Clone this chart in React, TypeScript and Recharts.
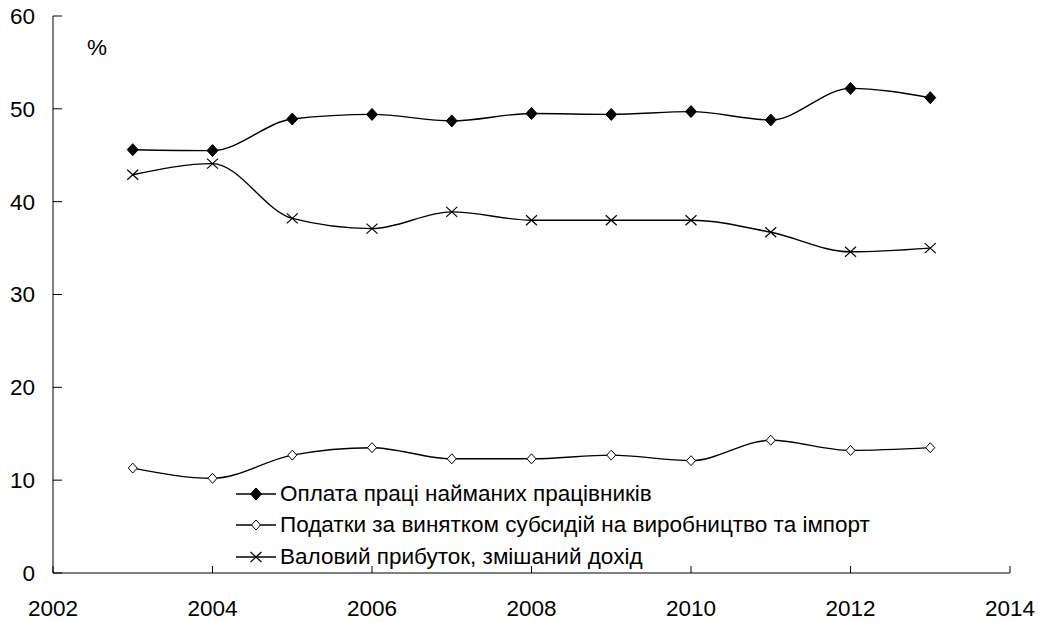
import { LineChart, Line, XAxis, YAxis, Legend } from 'recharts';

const years = [2003, 2004, 2005, 2006, 2007, 2008, 2009, 2010, 2011, 2012, 2013];
const compensation = [45.6, 45.5, 48.9, 49.4, 48.7, 49.5, 49.4, 49.7, 48.8, 52.2, 51.2];
const taxes = [11.3, 10.2, 12.7, 13.5, 12.3, 12.3, 12.7, 12.1, 14.3, 13.2, 13.5];
const grossProfit = [42.9, 44.1, 38.2, 37.1, 38.9, 38.0, 38.0, 38.0, 36.7, 34.6, 35.0];

const xTicks = [2002, 2004, 2006, 2008, 2010, 2012, 2014];
const yTicks = [0, 10, 20, 30, 40, 50, 60];

const seriesNames = [
  'Оплата праці найманих працівників',
  'Податки за винятком субсидій на виробництво та імпорт',
  'Валовий прибуток, змішаний дохід',
];

const data = years.map((year, i) => ({
  year,
  comp: compensation[i],
  tax: taxes[i],
  profit: grossProfit[i],
}));

const FONT = '"Liberation Sans", Arial, sans-serif';

function marker(kind: string, cx: number, cy: number, key?: string | number) {
  if (kind === 'filled') {
    return (
      <polygon
        key={key}
        points={`${cx},${cy - 6} ${cx + 5.5},${cy} ${cx},${cy + 6} ${cx - 5.5},${cy}`}
        fill="#000"
        stroke="#000"
        strokeWidth={1}
      />
    );
  }
  if (kind === 'hollow') {
    return (
      <polygon
        key={key}
        points={`${cx},${cy - 5} ${cx + 4.5},${cy} ${cx},${cy + 5} ${cx - 4.5},${cy}`}
        fill="#fff"
        stroke="#000"
        strokeWidth={1}
      />
    );
  }
  return (
    <g key={key} stroke="#000" strokeWidth={1.2}>
      <line x1={cx - 5.5} y1={cy - 5} x2={cx + 5.5} y2={cy + 5} />
      <line x1={cx - 5.5} y1={cy + 5} x2={cx + 5.5} y2={cy - 5} />
    </g>
  );
}

const dotFor = (kind: string) => (props: any) => marker(kind, props.cx, props.cy, props.key ?? props.index);

const kinds: Record<string, string> = { comp: 'filled', tax: 'hollow', profit: 'cross' };

function LegendBox(props: any) {
  // keep the series order of the reference, not the alphabetical one
  const payload = [...(props.payload || [])].sort(
    (a: any, b: any) => seriesNames.indexOf(a.value) - seriesNames.indexOf(b.value)
  );
  return (
    <div style={{ fontFamily: FONT, fontSize: 22.5, color: '#000' }}>
      {payload.map((entry: any) => (
        <div key={entry.dataKey} style={{ display: 'flex', alignItems: 'center', height: 31.5 }}>
          <svg width={44} height={16} style={{ marginRight: 2 }}>
            <line x1={2} y1={8} x2={42} y2={8} stroke="#000" strokeWidth={1.3} />
            {marker(kinds[entry.dataKey], 22, 8)}
          </svg>
          <span style={{ lineHeight: '26px', whiteSpace: 'nowrap' }}>{entry.value}</span>
        </div>
      ))}
    </div>
  );
}

export default function App() {
  return (
    <div style={{ position: 'absolute', left: 0, top: 0, width: 1039, height: 622, background: '#fff' }}>
      <LineChart width={1039} height={622} data={data} margin={{ top: 16, right: 29, bottom: 0, left: 0 }}>
        <XAxis
          dataKey="year"
          type="number"
          domain={[2002, 2014]}
          ticks={xTicks}
          height={49}
          stroke="#000"
          tickSize={-7}
          tickMargin={34}
          tick={{ fill: '#000', fontSize: 22.5, fontFamily: FONT }}
        />
        <YAxis
          domain={[0, 60]}
          ticks={yTicks}
          width={53}
          stroke="#000"
          tickSize={-9}
          tickMargin={27}
          tick={{ fill: '#000', fontSize: 22.5, fontFamily: FONT }}
        />
        <Legend
          layout="vertical"
          verticalAlign="middle"
          align="center"
          content={<LegendBox />}
          wrapperStyle={{ left: 234, top: 478, width: 'auto' }}
        />
        <Line
          type="monotone"
          dataKey="comp"
          name={seriesNames[0]}
          stroke="#000"
          strokeWidth={1.4}
          dot={dotFor('filled')}
          activeDot={false}
          isAnimationActive={false}
        />
        <Line
          type="monotone"
          dataKey="tax"
          name={seriesNames[1]}
          stroke="#000"
          strokeWidth={1.4}
          dot={dotFor('hollow')}
          activeDot={false}
          isAnimationActive={false}
        />
        <Line
          type="monotone"
          dataKey="profit"
          name={seriesNames[2]}
          stroke="#000"
          strokeWidth={1.4}
          dot={dotFor('cross')}
          activeDot={false}
          isAnimationActive={false}
        />
      </LineChart>
      <div style={{ position: 'absolute', left: 87, top: 35, fontFamily: FONT, fontSize: 22.5, color: '#000' }}>%</div>
    </div>
  );
}
